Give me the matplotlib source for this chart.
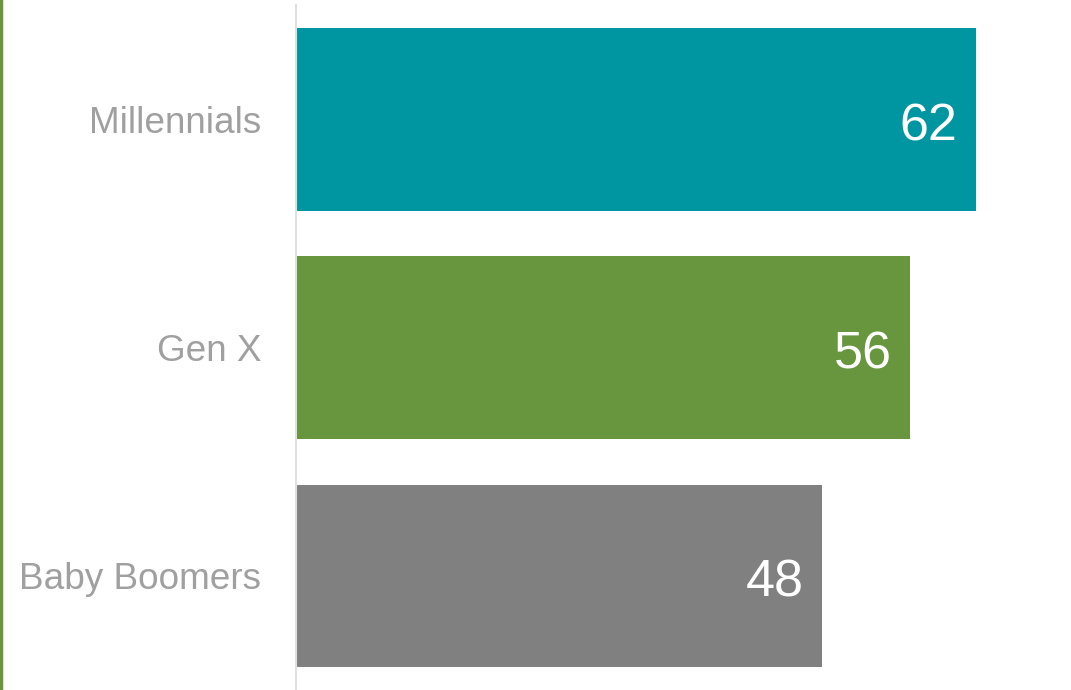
import matplotlib
matplotlib.use("Agg")
import matplotlib.pyplot as plt
from matplotlib.lines import Line2D

categories = ["Millennials", "Gen X", "Baby Boomers"]
values = [62, 56, 48]
colors = ["#0096A1", "#67963F", "#808080"]

plt.rcParams['font.family'] = ['Liberation Sans', 'DejaVu Sans']

W, H = 1071, 690
fig = plt.figure(figsize=(W / 100, H / 100), dpi=100)
ax = fig.add_axes([296 / W, 0, (W - 296) / W, 685 / H])

ypos = list(range(len(categories)))
bars = ax.barh(ypos, values, height=0.8, color=colors)
ax.set_xlim(0, (W - 296) / 10.968)
ax.set_ylim(2.5, -0.5)

for y, v in zip(ypos, values):
    ax.annotate(str(v), xy=(v, y), xytext=(-13.5, -5.5), textcoords="offset points",
                ha="right", va="center", color="white", fontsize=37.5)

ax.set_yticks(ypos)
ax.set_yticklabels(categories, fontsize=26.6, color="#A0A0A0")
ax.tick_params(axis="y", length=0, pad=25)
ax.set_xticks([])
for s in ["top", "right", "bottom"]:
    ax.spines[s].set_visible(False)
ax.spines["left"].set_color("#E0E0E0")
ax.spines["left"].set_linewidth(1.5)

fig.add_artist(Line2D([1 / W, 1 / W], [0, 1], transform=fig.transFigure,
                      color="#67963F", linewidth=2.5))

fig.savefig("out.png", dpi=100)
